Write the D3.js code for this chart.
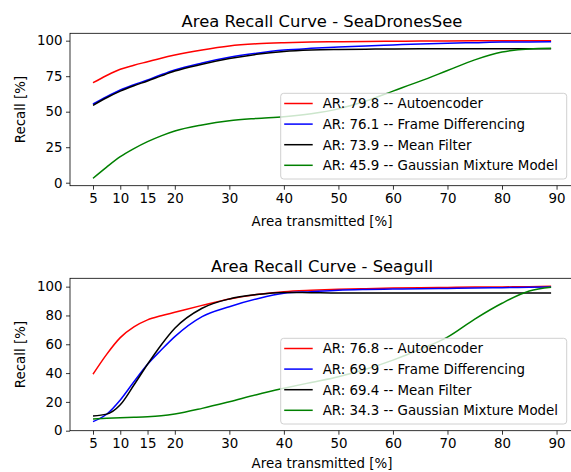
<!DOCTYPE html>
<html>
<head>
<meta charset="utf-8">
<script src="https://cdn.jsdelivr.net/npm/d3@7"></script>
<style>
  body { margin: 0; background: #fff; }
  text { font-family: "DejaVu Sans", sans-serif; fill: #000; }
</style>
</head>
<body>
<div id="chart"></div>
<script>
const areaPct = [5, 7.5, 10, 12.5, 15, 17.5, 20, 25, 30, 35, 40, 45, 50, 55, 60, 65, 70, 75, 80, 85, 89];
const xTicks = [5, 10, 15, 20, 30, 40, 50, 60, 70, 80, 90];

const methods = ["Autoencoder", "Frame Differencing", "Mean Filter", "Gaussian Mixture Model"];
const colors = ["#ff0000", "#0000ff", "#000000", "#008000"];

// SeaDronesSee
const sdsAR = [79.8, 76.1, 73.9, 45.9];
const sdsAutoencoder = [70.4, 75.5, 79.9, 82.7, 85.2, 87.7, 89.9, 93.5, 96.3, 97.8, 98.6, 99.1, 99.3, 99.5, 99.6, 99.7, 99.8, 99.9, 100, 100, 100];
const sdsFrameDiff   = [55.4, 60.6, 65.3, 69.0, 72.3, 76.0, 79.4, 84.3, 88.3, 91.2, 93.4, 94.6, 95.5, 96.3, 97.0, 97.7, 98.2, 98.6, 99.0, 99.1, 99.2];
const sdsMeanFilter  = [54.5, 59.8, 64.5, 68.3, 71.6, 75.2, 78.6, 83.4, 87.4, 90.4, 92.4, 93.4, 93.8, 94.0, 94.2, 94.3, 94.3, 94.4, 94.4, 94.4, 94.4];
const sdsGMM         = [3.1, 11.0, 18.3, 24.0, 28.9, 33.0, 36.4, 40.7, 43.7, 45.3, 46.5, 48.6, 52.0, 57.5, 64.5, 71.5, 79.0, 86.5, 92.0, 94.2, 94.6];
const sdsYTicks = [0, 25, 50, 75, 100];

// Seagull
const sgAR = [76.8, 69.9, 69.4, 34.3];
const sgAutoencoder = [39.2, 53.0, 64.6, 72.0, 76.9, 79.8, 82.2, 87.0, 91.5, 94.5, 96.5, 97.5, 98.2, 98.6, 99.0, 99.3, 99.5, 99.7, 99.8, 100, 100.2];
const sgFrameDiff   = [6.3, 11.4, 21.3, 34.0, 46.1, 56.0, 65.3, 79.2, 86.1, 91.5, 95.4, 96.5, 97.5, 98.0, 98.3, 98.6, 98.8, 99.0, 99.3, 99.6, 99.8];
const sgMeanFilter  = [10.2, 11.5, 18.0, 31.7, 46.1, 59.5, 71.1, 85.0, 91.5, 94.5, 96.0, 95.8, 95.6, 95.6, 95.6, 95.6, 95.6, 95.6, 95.6, 95.6, 95.6];
const sgGMM         = [8.1, 8.6, 9.0, 9.3, 9.7, 10.4, 11.6, 15.5, 20.1, 25.0, 29.4, 33.5, 37.5, 42.6, 49.0, 56.5, 65.0, 77.5, 88.5, 97.0, 99.6];
const sgYTicks = [0, 20, 40, 60, 80, 100];

const W = 571, H = 472;
const svg = d3.select("#chart").append("svg")
  .attr("width", W).attr("height", H);

const FS = 13.4;

function panel(top, title, series, ar, yDomain, yTicks, xlabOff) {
  const left = 70, right = 574, h = 152.4;
  const x = d3.scaleLinear().domain([0.78, 93.2]).range([left, right]);
  const y = d3.scaleLinear().domain(yDomain).range([top + h, top]);
  const g = svg.append("g");

  // curves
  const line = d3.line()
    .x((d, i) => x(areaPct[i]))
    .y(d => y(d))
    .curve(d3.curveMonotoneX);
  series.forEach((s, i) => {
    g.append("path").datum(s)
      .attr("fill", "none")
      .attr("stroke", colors[i])
      .attr("stroke-width", 1.5)
      .attr("d", line);
  });

  // frame
  g.append("rect")
    .attr("x", left).attr("y", top)
    .attr("width", right - left).attr("height", h)
    .attr("fill", "none").attr("stroke", "#000").attr("stroke-width", 0.8);

  const xa = g.append("g")
    .attr("transform", `translate(0,${top + h})`)
    .call(d3.axisBottom(x).tickValues(xTicks).tickSize(4).tickPadding(3.5).tickSizeOuter(0));
  const ya = g.append("g")
    .attr("transform", `translate(${left},0)`)
    .call(d3.axisLeft(y).tickValues(yTicks).tickSize(4).tickPadding(3.5).tickSizeOuter(0));
  [xa, ya].forEach(a => {
    a.select(".domain").remove();
    a.selectAll("line").attr("stroke", "#000").attr("stroke-width", 0.8);
    a.selectAll("text").attr("font-size", FS).attr("font-family", "DejaVu Sans").attr("fill", "#000");
  });

  g.append("text")
    .attr("x", (left + right) / 2).attr("y", top - 6.6)
    .attr("text-anchor", "middle").attr("font-size", 16.4)
    .text(title);
  g.append("text")
    .attr("x", (left + right) / 2).attr("y", top + h + xlabOff)
    .attr("text-anchor", "middle").attr("font-size", FS)
    .text("Area transmitted [%]");
  g.append("text")
    .attr("transform", `translate(25,${top + h / 2}) rotate(-90)`)
    .attr("text-anchor", "middle").attr("font-size", FS)
    .text("Recall [%]");

  // legend
  const lx = 280.7, ly = top + 60, lw = 286, lh = 85.7;
  const lg = g.append("g");
  lg.append("rect")
    .attr("x", lx).attr("y", ly).attr("width", lw).attr("height", lh)
    .attr("rx", 3).attr("fill", "#fff").attr("fill-opacity", 0.8)
    .attr("stroke", "#d0d0d0").attr("stroke-width", 1);
  methods.forEach((m, i) => {
    const cy = ly + 10.2 + i * 20.6;
    lg.append("line")
      .attr("x1", lx + 3.5).attr("x2", lx + 32)
      .attr("y1", cy).attr("y2", cy)
      .attr("stroke", colors[i]).attr("stroke-width", 1.5);
    lg.append("text")
      .attr("x", lx + 42).attr("y", cy).attr("dy", "0.36em")
      .attr("font-size", FS)
      .text(`AR: ${ar[i].toFixed(1)} -- ${m}`);
  });
}

panel(33.3, "Area Recall Curve - SeaDronesSee",
  [sdsAutoencoder, sdsFrameDiff, sdsMeanFilter, sdsGMM], sdsAR, [-2.1, 105.2], sdsYTicks, 40.3);
panel(278.3, "Area Recall Curve - Seagull",
  [sgAutoencoder, sgFrameDiff, sgMeanFilter, sgGMM], sgAR, [0, 105.8], sgYTicks, 37.5);
</script>
</body>
</html>
